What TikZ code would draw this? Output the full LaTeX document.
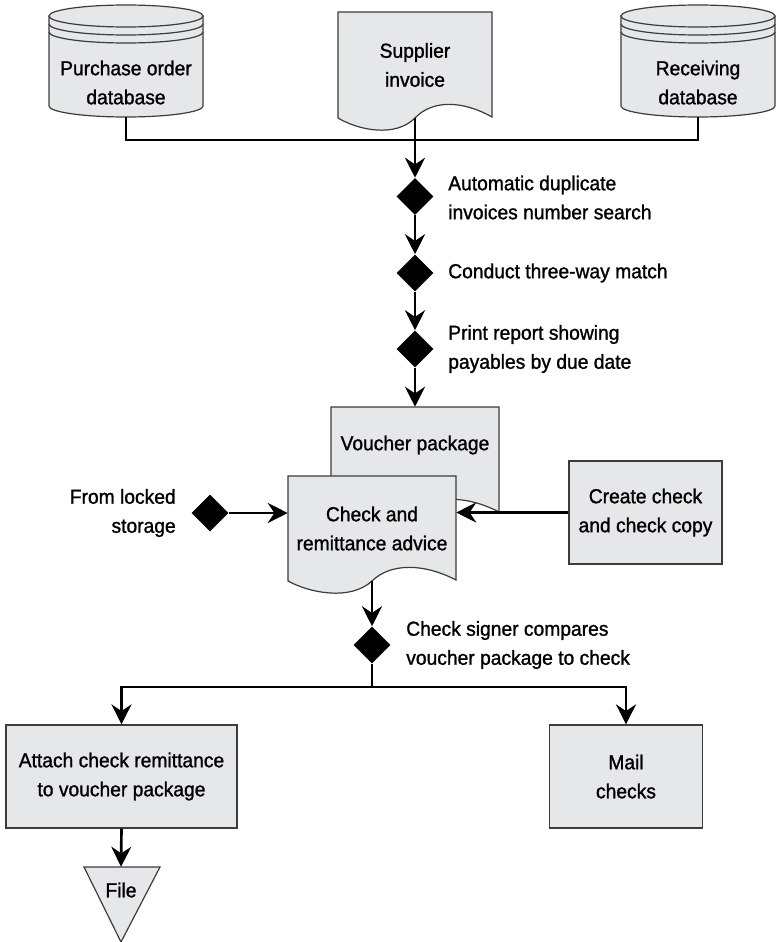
\documentclass[tikz,border=0pt]{standalone}
\usepackage{fontspec}
\setmainfont{Liberation Sans}[FakeBold=1.2, FakeStretch=0.95]
\usepackage{tikz}
\usetikzlibrary{positioning,shapes,shapes.geometric,arrows.meta}

\definecolor{boxgray}{RGB}{230,231,232}
\definecolor{edgegray}{RGB}{60,60,60}

\tikzset{
  wire/.style={line width=2pt},
  conn/.style={line width=2pt, -{Stealth[length=15pt,width=15pt,inset=5pt]}},
  shapeline/.style={draw=edgegray, line width=0.9pt, fill=boxgray},
  procbox/.style={shapeline, align=center, minimum width=114.75pt, minimum height=77.25pt},
  gate/.style={diamond, fill=black, inner sep=0pt, minimum width=27.75pt, minimum height=27.75pt},
  note/.style={anchor=west, align=left, inner sep=0pt},
  txt/.style={align=center, inner sep=0pt}
}

\newcommand{\drum}[1]{%
  \filldraw[shapeline] (#1,16) -- (#1,106) arc[start angle=180, end angle=360, x radius=57.75pt, y radius=8.25pt] -- (#1+154,16) -- cycle;
  \filldraw[shapeline] (#1+77,16) ellipse [x radius=57.75pt, y radius=8.25pt];
  \draw[draw=edgegray, line width=0.9pt] (#1,24) arc[start angle=180, end angle=360, x radius=57.75pt, y radius=8.25pt];
  \draw[draw=edgegray, line width=0.9pt] (#1,32) arc[start angle=180, end angle=360, x radius=57.75pt, y radius=8.25pt];
}
\newcommand{\docshape}[4]{%
  \filldraw[shapeline] (#1,#3) -- (#1,#4)
    .. controls (#1+0.13*#2,#4+12) and (#1+0.37*#2,#4+20) .. (#1+0.5*#2,#4)
    .. controls (#1+0.61*#2,#4-18) and (#1+0.805*#2,#4-18) .. (#1+#2,#4-1)
    -- (#1+#2,#3) -- cycle;
}

\begin{document}
\begin{tikzpicture}[x=0.75pt, y=-0.75pt, font=\fontsize{15.2}{21.75}\selectfont]
\useasboundingbox (0,0) rectangle (776,942);

\drum{49}
\drum{621}
\docshape{338}{154}{12}{118}
\docshape{331}{168}{407}{513}
\docshape{288}{168}{476}{581}
\filldraw[shapeline] (84,867) -- (160,867) -- (121,942) -- cycle;

\node[txt, minimum width=115.5pt, minimum height=51.75pt] (po) at (126,82.5) {Purchase order\\database};
\node[txt, minimum width=115.5pt, minimum height=79.5pt] (inv) at (415,65) {Supplier\\invoice};
\node[txt, minimum width=115.5pt, minimum height=51.75pt] (rc) at (698,82.5) {Receiving\\database};
\coordinate (j1) at (415,140);

\node[gate] (d1) at (415,196.5) {};
\node[note] (n1) at (448,197.5) {Automatic duplicate\\invoices number search};
\node[gate] (d2) at (415,273) {};
\node[note] (n2) at (448,273) {Conduct three-way match};
\node[gate] (d3) at (415,349) {};
\node[note] (n3) at (448,349) {Print report showing\\payables by due date};

\node[txt, minimum width=126pt, minimum height=57pt] (vp) at (415,445) {Voucher package};
\node[txt, minimum width=126pt, minimum height=78.75pt] (chk) at (372,528.5) {Check and\\remittance advice};
\node[procbox] (create) at (645.5,512.5) {Create check\\and check copy};
\node[gate] (lock) at (210,513) {};
\node[txt, anchor=east, align=right] (locktext) at (176,513) {From locked\\storage};

\node[gate] (d4) at (372,645) {};
\node[note] (n4) at (406,645) {Check signer compares\\voucher package to check};
\coordinate (j2) at (372,687);

\node[procbox, minimum width=173.25pt] (attach) at (121.5,776.5) {Attach check remittance\\to voucher package};
\node[procbox] (mail) at (626,776.5) {Mail\\checks};
\node[txt, minimum height=34.5pt] (file) at (121,890) {File};

\draw[wire] (po.south) |- (j1);
\draw[wire] (rc.south) |- (j1);
\draw[conn] (inv.south) -- (d1.north);
\draw[conn] (d1.south) -- (d2.north);
\draw[conn] (d2.south) -- (d3.north);
\draw[conn] (d3.south) -- (vp.north);
\draw[conn] (create.west) -- (chk.east |- create.west);
\draw[conn] (lock.east) -- (chk.west |- lock.east);
\draw[conn] (chk.south) -- (d4.north);
\draw[wire] (d4.south) -- (j2);
\draw[conn] (j2) -| (attach.north);
\draw[conn] (j2) -| (mail.north);
\draw[conn] (attach.south) -- (file.north);
\end{tikzpicture}
\end{document}
